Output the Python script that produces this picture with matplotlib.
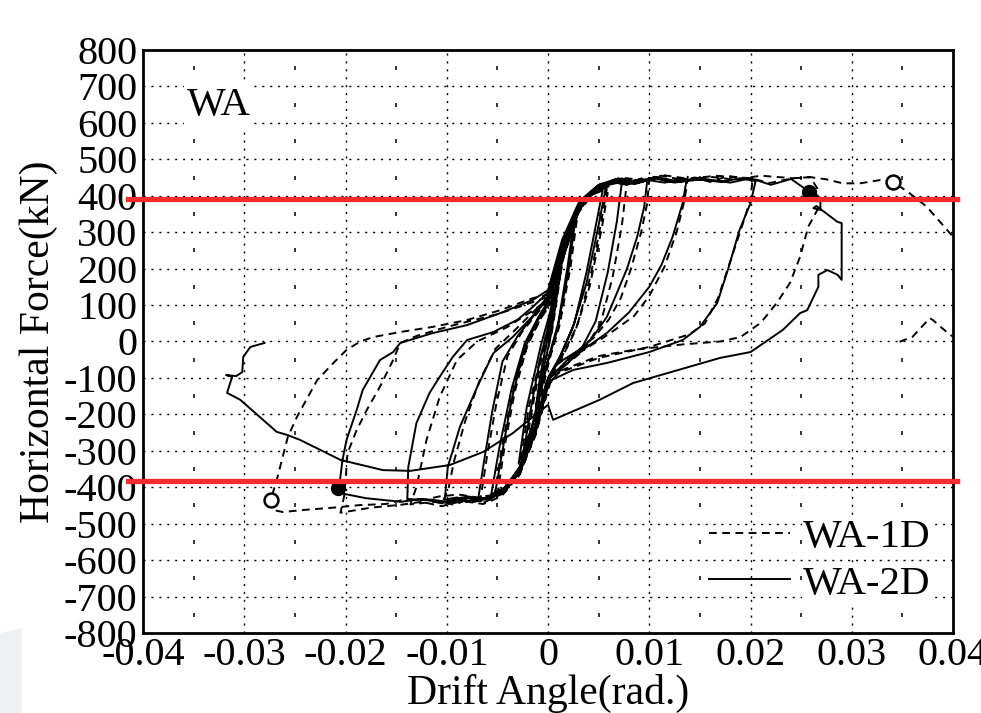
import numpy as np
import matplotlib as mpl
mpl.use('Agg')
import matplotlib.pyplot as plt
from matplotlib.patches import Polygon

plt.rcParams['font.family'] = ['Liberation Serif', 'DejaVu Serif']
plt.rcParams['axes.unicode_minus'] = False

# tick positions / labels
x_ticks = [-0.04, -0.03, -0.02, -0.01, 0.0, 0.01, 0.02, 0.03, 0.04]
x_tick_labels = ['-0.04', '-0.03', '-0.02', '-0.01', '0', '0.01', '0.02', '0.03', '0.04']
y_ticks = list(range(-800, 801, 100))
y_tick_labels = [str(v) for v in y_ticks]
x_minor = [-0.035, -0.025, -0.015, -0.005, 0.005, 0.015, 0.025, 0.035]
y_minor = list(range(-750, 751, 100))

# reference strength lines (kN)
ref_levels = [390, -383]

# WA-1D (dashed), (drift angle rad, force kN), one list per loading stage
wa1d_c1 = [(0.0000, 0), (0.0006, 100), (0.0013, 200), (0.0009, 120), (0.0004, 30), (-0.0003, -60),
           (-0.0011, -170), (-0.0007, -90), (-0.0001, 0), (0.0005, 80)]
wa1d_c2 = [(0.0015, 230), (0.0027, 330), (0.0021, 210), (0.0012, 60), (0.0002, -40), (-0.0010, -190),
           (-0.0023, -310), (-0.0016, -190), (-0.0006, -40), (0.0004, 70),
           (0.0016, 240), (0.0029, 345), (0.0022, 200), (0.0011, 40), (-0.0002, -80), (-0.0014, -230),
           (-0.0027, -330), (-0.0019, -180), (-0.0004, -5), (0.0004, 85)]
wa1d_c3 = [(0.0015, 245), (0.0029, 350), (0.0044, 405), (0.0058, 418), (0.0052, 320), (0.0042, 180),
           (0.0029, 45), (0.0014, -40), (0.0002, -90), (-0.0011, -220), (-0.0025, -335), (-0.0039, -400),
           (-0.0050, -420), (-0.0043, -290), (-0.0033, -140), (-0.0021, -15), (-0.0008, 60), (0.0003, 105),
           (0.0016, 250), (0.0031, 360), (0.0046, 412), (0.0060, 425), (0.0053, 310), (0.0041, 150),
           (0.0027, 30), (0.0012, -55), (0.0000, -110), (-0.0014, -255), (-0.0028, -360), (-0.0042, -410),
           (-0.0053, -425), (-0.0045, -280), (-0.0033, -115), (-0.0019, 0), (-0.0005, 75), (0.0003, 115)]
wa1d_c4 = [(0.0016, 260), (0.0031, 365), (0.0047, 415), (0.0064, 436), (0.0078, 440), (0.0073, 320),
           (0.0064, 180), (0.0052, 50), (0.0035, -25), (0.0015, -70), (0.0002, -115), (-0.0012, -250),
           (-0.0027, -355), (-0.0043, -410), (-0.0057, -432), (-0.0067, -438), (-0.0060, -310),
           (-0.0051, -170), (-0.0040, -40), (-0.0026, 25), (-0.0010, 80), (0.0003, 122)]
wa1d_c5 = [(0.0016, 265), (0.0030, 360), (0.0046, 415), (0.0062, 436), (0.0078, 446), (0.0088, 438),
           (0.0100, 448), (0.0098, 380), (0.0092, 300), (0.0082, 200), (0.0072, 120), (0.0060, 60),
           (0.0045, 10), (0.0025, -35), (0.0010, -60), (0.0002, -95), (-0.0012, -240), (-0.0027, -350),
           (-0.0044, -412), (-0.0060, -432), (-0.0076, -442), (-0.0090, -434), (-0.0104, -440),
           (-0.0098, -400), (-0.0093, -330), (-0.0082, -220), (-0.0068, -110), (-0.0052, -20),
           (-0.0035, 25), (-0.0015, 80), (0.0003, 128)]
wa1d_c6 = [(0.0016, 270), (0.0031, 370), (0.0048, 420), (0.0066, 442), (0.0080, 436), (0.0095, 450),
           (0.0117, 442), (0.0138, 452), (0.0135, 390), (0.0127, 300), (0.0115, 205), (0.0100, 125),
           (0.0085, 70), (0.0060, 20), (0.0040, -15), (0.0020, -50), (0.0002, -100), (-0.0012, -245),
           (-0.0028, -360), (-0.0045, -418), (-0.0062, -440), (-0.0078, -432), (-0.0092, -448),
           (-0.0112, -440), (-0.0136, -447), (-0.0130, -400), (-0.0120, -270), (-0.0107, -152),
           (-0.0090, -51), (-0.0070, 0), (-0.0040, 40), (-0.0015, 85), (0.0003, 120)]
wa1d_c7 = [(0.0016, 275), (0.0032, 378), (0.0049, 425), (0.0068, 445), (0.0090, 438), (0.0105, 452),
           (0.0125, 440), (0.0145, 450), (0.0160, 438), (0.0178, 454), (0.0202, 445), (0.0200, 390),
           (0.0192, 320), (0.0180, 220), (0.0168, 120), (0.0155, 50), (0.0140, 20), (0.0100, -15),
           (0.0050, -45), (0.0002, -95), (-0.0012, -250), (-0.0028, -365), (-0.0046, -425),
           (-0.0064, -446), (-0.0085, -438), (-0.0105, -452), (-0.0125, -440), (-0.0145, -448),
           (-0.0175, -456), (-0.0205, -470), (-0.0201, -420), (-0.0198, -306), (-0.0189, -243),
           (-0.0179, -188), (-0.0166, -124), (-0.0153, -51), (-0.0146, -4), (-0.0130, 15),
           (-0.0100, 40), (-0.0050, 75), (0.0003, 125)]
wa1d_c8 = [(0.0016, 280), (0.0033, 385), (0.0050, 430), (0.0070, 448), (0.0092, 440), (0.0112, 455),
           (0.0135, 442), (0.0160, 452), (0.0185, 444), (0.0210, 455), (0.0242, 448), (0.0259, 451),
           (0.0266, 420), (0.0266, 361), (0.0257, 315), (0.0249, 233), (0.0239, 161), (0.0226, 106),
           (0.0210, 51), (0.0190, 12), (0.0170, 0), (0.0133, -8), (0.0084, -23), (0.0050, -40),
           (0.0003, -90), (-0.0012, -255), (-0.0029, -370), (-0.0047, -418), (-0.0070, -428),
           (-0.0088, -420), (-0.0107, -425), (-0.0125, -436), (-0.0139, -432), (-0.0160, -446),
           (-0.0186, -449), (-0.0212, -456), (-0.0240, -462), (-0.0262, -468), (-0.0272, -462),
           (-0.0274, -435), (-0.0268, -381), (-0.0257, -262), (-0.0248, -207), (-0.0228, -106),
           (-0.0212, -59), (-0.0199, -23), (-0.0186, -1), (-0.0173, 12), (-0.0146, 26), (-0.0114, 40),
           (-0.0080, 59), (-0.0047, 86), (-0.0015, 119), (0.0003, 130)]
wa1d_c9 = [(0.0016, 285), (0.0034, 392), (0.0052, 432), (0.0072, 450), (0.0095, 442), (0.0115, 456),
           (0.0140, 446), (0.0165, 455), (0.0200, 448), (0.0219, 435), (0.0242, 448), (0.0259, 451),
           (0.0275, 445), (0.0291, 434), (0.0308, 434), (0.0328, 443), (0.0341, 438), (0.0357, 407),
           (0.0374, 370), (0.0397, 297), (0.0420, 230), (0.0440, 120), (0.0430, 20), (0.0410, 0),
           (0.0397, 18), (0.0380, 59), (0.0377, 64), (0.0360, 13), (0.0348, 0), (0.0343, 0)]

# WA-2D (solid)
wa2d_c1 = [(0.0000, 0), (0.0005, 90), (0.0012, 190), (0.0008, 110), (0.0003, 20), (-0.0004, -70),
           (-0.0012, -180), (-0.0008, -100), (-0.0002, -10), (0.0004, 70)]
wa2d_c2 = [(0.0013, 210), (0.0025, 320), (0.0019, 200), (0.0010, 50), (0.0000, -50), (-0.0012, -200),
           (-0.0025, -320), (-0.0018, -200), (-0.0008, -50), (0.0002, 60),
           (0.0014, 225), (0.0027, 335), (0.0020, 190), (0.0009, 30), (-0.0004, -90), (-0.0016, -235),
           (-0.0029, -335), (-0.0021, -180), (-0.0007, -10), (0.0002, 80)]
wa2d_c3 = [(0.0013, 235), (0.0027, 345), (0.0041, 400), (0.0054, 415), (0.0048, 330), (0.0038, 190),
           (0.0026, 50), (0.0012, -40), (0.0001, -95), (-0.0012, -225), (-0.0026, -335), (-0.0040, -398),
           (-0.0052, -412), (-0.0045, -300), (-0.0036, -160), (-0.0024, -25), (-0.0011, 55), (0.0000, 100),
           (0.0013, 245), (0.0028, 355), (0.0043, 408), (0.0057, 422), (0.0050, 320), (0.0038, 160),
           (0.0024, 35), (0.0010, -55), (-0.0002, -115), (-0.0015, -255), (-0.0030, -365), (-0.0044, -408),
           (-0.0056, -418), (-0.0048, -290), (-0.0036, -130), (-0.0023, -5), (-0.0009, 70), (0.0000, 110)]
wa2d_c4 = [(0.0013, 250), (0.0028, 358), (0.0044, 412), (0.0060, 430), (0.0073, 438), (0.0068, 330),
           (0.0059, 190), (0.0047, 55), (0.0031, -30), (0.0013, -75), (0.0000, -120), (-0.0013, -255),
           (-0.0028, -360), (-0.0044, -410), (-0.0058, -428), (-0.0069, -432), (-0.0063, -325),
           (-0.0055, -190), (-0.0045, -55), (-0.0030, 15), (-0.0013, 75), (0.0000, 118)]
wa2d_c5 = [(0.0013, 255), (0.0027, 355), (0.0043, 410), (0.0059, 432), (0.0075, 442), (0.0087, 434),
           (0.0098, 442), (0.0095, 370), (0.0088, 287), (0.0078, 200), (0.0068, 133), (0.0058, 67),
           (0.0045, 15), (0.0035, -15), (0.0020, -42), (0.0009, -60), (0.0000, -100), (-0.0013, -235),
           (-0.0028, -345), (-0.0044, -405), (-0.0060, -428), (-0.0078, -438), (-0.0090, -428),
           (-0.0102, -434), (-0.0099, -344), (-0.0087, -234), (-0.0070, -125), (-0.0054, -32),
           (-0.0035, 12), (-0.0015, 70), (0.0000, 125)]
wa2d_c6 = [(0.0013, 262), (0.0028, 365), (0.0045, 418), (0.0062, 438), (0.0078, 430), (0.0092, 446),
           (0.0115, 436), (0.0137, 446), (0.0133, 380), (0.0123, 287), (0.0112, 210), (0.0100, 150),
           (0.0080, 80), (0.0058, 23), (0.0040, -12), (0.0020, -48), (0.0000, -105), (-0.0013, -240),
           (-0.0029, -352), (-0.0046, -412), (-0.0063, -432), (-0.0080, -425), (-0.0095, -442),
           (-0.0115, -434), (-0.0139, -434), (-0.0138, -344), (-0.0130, -224), (-0.0117, -141),
           (-0.0107, -97), (-0.0094, -42), (-0.0080, 4), (-0.0054, 26), (-0.0030, 60), (-0.0015, 95),
           (0.0000, 135)]
wa2d_c7 = [(0.0014, 270), (0.0030, 375), (0.0047, 422), (0.0065, 442), (0.0085, 432), (0.0105, 448),
           (0.0125, 436), (0.0145, 446), (0.0170, 438), (0.0190, 448), (0.0205, 440), (0.0200, 380),
           (0.0189, 305), (0.0178, 200), (0.0167, 105), (0.0150, 40), (0.0133, 4), (0.0100, -29),
           (0.0058, -59), (0.0025, -78), (0.0000, -110), (-0.0013, -245), (-0.0030, -360),
           (-0.0048, -418), (-0.0066, -436), (-0.0085, -428), (-0.0105, -444), (-0.0125, -432),
           (-0.0145, -440), (-0.0180, -430), (-0.0207, -415), (-0.0203, -325), (-0.0199, -270),
           (-0.0189, -188), (-0.0183, -133), (-0.0166, -51), (-0.0153, -29), (-0.0146, -4),
           (-0.0114, 23), (-0.0080, 45), (-0.0047, 78), (-0.0015, 114), (0.0000, 141)]
wa2d_c8 = [(0.0014, 280), (0.0031, 385), (0.0049, 428), (0.0068, 446), (0.0088, 436), (0.0110, 450),
           (0.0130, 438), (0.0155, 446), (0.0180, 436), (0.0200, 448), (0.0220, 430), (0.0240, 446),
           (0.0258, 411), (0.0269, 394), (0.0269, 361), (0.0262, 366), (0.0265, 372), (0.0286, 328),
           (0.0290, 325), (0.0290, 169), (0.0286, 183), (0.0276, 196), (0.0267, 183), (0.0267, 150),
           (0.0256, 86), (0.0249, 78), (0.0232, 32), (0.0200, -29), (0.0170, -45), (0.0084, -114),
           (0.0051, -160), (0.0005, -215), (0.0000, -174), (-0.0015, -207), (-0.0035, -252),
           (-0.0064, -303), (-0.0097, -339), (-0.0136, -355), (-0.0163, -353), (-0.0205, -325),
           (-0.0245, -270), (-0.0257, -257), (-0.0268, -248), (-0.0304, -160), (-0.0317, -141),
           (-0.0312, -97), (-0.0318, -92), (-0.0308, -95), (-0.0302, -84), (-0.0301, -42),
           (-0.0294, -15), (-0.0280, -4)]

# marked points
wa1d_open_pts = [(0.0341, 438), (-0.0274, -435)]
wa2d_filled_pts = [(0.0258, 411), (-0.0207, -402)]

wa1d = np.array(wa1d_c1 + wa1d_c2 + wa1d_c3 + wa1d_c4 + wa1d_c5 + wa1d_c6 + wa1d_c7 + wa1d_c8 + wa1d_c9)
wa2d = np.array(wa2d_c1 + wa2d_c2 + wa2d_c3 + wa2d_c4 + wa2d_c5 + wa2d_c6 + wa2d_c7 + wa2d_c8)

fig = plt.figure(figsize=(9.81, 7.13), dpi=100)
ax = fig.add_axes([0.1458, 0.1122, 0.8257, 0.8177])

# light grey corner left in the scanned page
fig.patches.append(Polygon([[0, 0], [0.0224, 0], [0.0224, 0.119], [0, 0.112]], closed=True,
                           transform=fig.transFigure, facecolor='#eff0f2', edgecolor='none', zorder=0))

ax.set_xlim(-0.04, 0.04)
ax.set_ylim(-800, 800)
ax.set_xticks(x_ticks)
ax.set_xticklabels(x_tick_labels)
ax.set_yticks(y_ticks)
ax.set_yticklabels(y_tick_labels)
ax.tick_params(axis='both', length=0, labelsize=29)
ax.tick_params(axis='x', pad=3)
ax.tick_params(axis='y', pad=4)
for sp in ax.spines.values():
    sp.set_linewidth(2.0)

# dotted grid
for xv in x_ticks[1:-1]:
    ax.axvline(xv, color='k', lw=1.0, ls=(0, (1.5, 4.2)), zorder=1)
for yv in y_ticks[1:-1]:
    ax.axhline(yv, color='k', lw=1.0, ls=(0, (1.5, 4.2)), zorder=1)
mx, my = np.meshgrid(x_minor, y_minor)
ax.plot(mx.ravel(), my.ravel(), ls='none', marker='|', ms=3.5, mew=1.1, color='k', zorder=1)

ax.plot(wa1d[:, 0], wa1d[:, 1], color='k', lw=1.4, ls=(0, (4.0, 2.8)), zorder=3, label='WA-1D')
ax.plot(wa2d[:, 0], wa2d[:, 1], color='k', lw=1.4, ls='-', zorder=3, label='WA-2D')

op = np.array(wa1d_open_pts)
fp = np.array(wa2d_filled_pts)
ax.plot(op[:, 0], op[:, 1], ls='none', marker='o', ms=10, mfc='white', mec='k', mew=1.8, zorder=4)
ax.plot(fp[:, 0], fp[:, 1], ls='none', marker='o', ms=10, mfc='k', mec='k', zorder=4)

for lv in ref_levels:
    ax.axhline(lv, xmin=-0.0185, xmax=1.005, color='#f42a2f', lw=3.8, clip_on=False, zorder=6)

ax.text(-0.0357, 622, 'WA', fontsize=29.5, va='baseline', ha='left', zorder=5,
        bbox=dict(facecolor='white', edgecolor='none', pad=2))

leg = ax.legend(loc='lower right', bbox_to_anchor=(0.972, 0.052), frameon=False, fontsize=29.5,
                handlelength=2.0, handletextpad=0.3, labelspacing=0.22, borderpad=0, borderaxespad=0)
leg.set_zorder(5)
for t in leg.get_texts():
    t.set_bbox(dict(facecolor='white', edgecolor='none', pad=1))

ax.set_ylabel('Horizontal Force(kN)', fontsize=30, labelpad=4)
ax.set_xlabel('Drift Angle(rad.)', fontsize=30, labelpad=0)

fig.savefig('out.png', dpi=100)
